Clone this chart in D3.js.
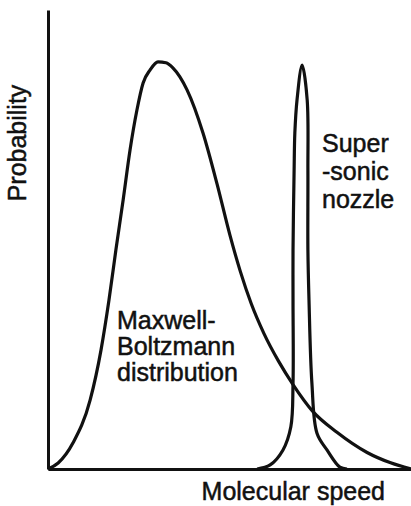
<!DOCTYPE html>
<html>
<head>
<meta charset="utf-8">
<script src="https://cdn.jsdelivr.net/npm/d3@7"></script>
<style>
  body { margin: 0; background: #fff; }
  text { font-family: "Liberation Sans", Arial, sans-serif; fill: #111; stroke: #111; stroke-width: 0.5px; }
</style>
</head>
<body>
<div id="chart"></div>
<script>
// Maxwell-Boltzmann curve (speed in arbitrary units 0-10, probability 0-1)
const mbSpeed = [0, 0.28, 0.69, 1.16, 1.46, 1.68, 1.87, 2.07, 2.26, 2.45, 2.62, 2.81, 3.03, 3.25, 3.44, 3.83, 4.27, 4.66, 5.01, 5.30, 5.60, 5.95, 6.35, 6.75, 7.30, 7.96, 8.79, 9.42, 10];
const mbProb  = [0, 0.013, 0.057, 0.150, 0.259, 0.368, 0.477, 0.586, 0.695, 0.782, 0.841, 0.869, 0.887, 0.885, 0.874, 0.826, 0.732, 0.620, 0.510, 0.430, 0.360, 0.295, 0.235, 0.184, 0.125, 0.080, 0.036, 0.014, 0];

// supersonic nozzle curve
const nozzleSpeed = [5.76, 6.12, 6.47, 6.69, 6.75, 6.75, 6.75, 6.78, 6.80, 6.86, 7.0, 7.14, 7.16, 7.16, 7.19, 7.27, 7.41, 7.69, 8.04, 8.24];
const nozzleProb  = [0, 0.009, 0.041, 0.092, 0.187, 0.368, 0.477, 0.651, 0.732, 0.804, 0.880, 0.804, 0.651, 0.477, 0.368, 0.187, 0.078, 0.041, 0.004, 0];

const xTitle = 'Molecular speed';
const yTitle = 'Probability';
const mbLabel = ['Maxwell-', 'Boltzmann', 'distribution'];
const nozzleLabel = ['Super', '-sonic', 'nozzle'];

const width = 411,
      height = 506;

const svg = d3.select('#chart')
              .append('svg')
              .attr('width', width)
              .attr('height', height);

const x = d3.scaleLinear().domain([0, 10]).range([48, 411]);
const y = d3.scaleLinear().domain([0, 1]).range([469, 10]);

// axes: bare lines, no ticks
const xAxis = d3.axisBottom(x).tickValues([]).tickSizeOuter(0);
const yAxis = d3.axisLeft(y).tickValues([]).tickSizeOuter(0);

svg.append('g')
  .attr('transform', `translate(0,${y(0)})`)
  .call(xAxis)
  .select('.domain')
  .attr('stroke', '#111')
  .attr('stroke-width', 3);

svg.append('g')
  .attr('transform', `translate(${x(0)},0)`)
  .call(yAxis)
  .select('.domain')
  .attr('stroke', '#111')
  .attr('stroke-width', 3);

// Maxwell curve is a function of speed, the nozzle peak is drawn as a loop of points
const mbLine = d3.line()
                 .x(d => x(d[0]))
                 .y(d => y(d[1]))
                 .curve(d3.curveMonotoneX);

const nozzleLine = d3.line()
                     .x(d => x(d[0]))
                     .y(d => y(d[1]))
                     .curve(d3.curveCatmullRom.alpha(0.5));

svg.append('path')
  .datum(d3.zip(mbSpeed, mbProb))
  .attr('fill', 'none')
  .attr('stroke', '#111')
  .attr('stroke-width', 3.2)
  .attr('d', mbLine);

svg.append('path')
  .datum(d3.zip(nozzleSpeed, nozzleProb))
  .attr('fill', 'none')
  .attr('stroke', '#111')
  .attr('stroke-width', 3.2)
  .attr('d', nozzleLine);

// labels
const fontSize = 25;

svg.append('text')
  .attr('x', 385)
  .attr('y', 500)
  .attr('text-anchor', 'end')
  .attr('font-size', fontSize)
  .text(xTitle);

svg.append('text')
  .attr('transform', 'translate(26,143) rotate(-90)')
  .attr('text-anchor', 'middle')
  .attr('font-size', fontSize)
  .text(yTitle);

svg.append('g')
  .selectAll('text')
  .data(mbLabel)
  .enter()
  .append('text')
  .attr('x', 117)
  .attr('y', (d, i) => 329 + i * 26)
  .attr('font-size', fontSize)
  .text(d => d);

svg.append('g')
  .selectAll('text')
  .data(nozzleLabel)
  .enter()
  .append('text')
  .attr('x', 322)
  .attr('y', (d, i) => 152 + i * 28)
  .attr('font-size', fontSize)
  .text(d => d);
</script>
</body>
</html>
